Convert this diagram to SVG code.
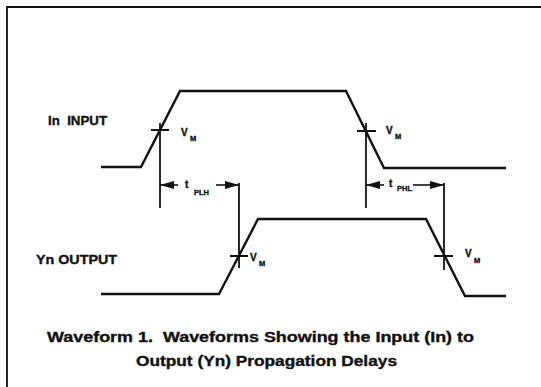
<svg xmlns="http://www.w3.org/2000/svg" width="541" height="387" viewBox="0 0 541 387">
<style>
.wave{fill:none;stroke:#111;stroke-width:2.4;stroke-linejoin:miter}
.ln{fill:none;stroke:#111;stroke-width:1.8}
.dim{fill:none;stroke:#111;stroke-width:1.6}
.lbl{font-family:"Liberation Sans",Arial,sans-serif;font-weight:bold;fill:#111;stroke:#111;stroke-width:0.35;white-space:pre}
.big{font-size:12px}
.cap{font-size:14px}
.v{font-size:10px}
.sub{font-size:7.5px}
.head{fill:#111}
</style>
<defs>
<marker id="ah" viewBox="0 0 14 8" refX="14" refY="4" markerWidth="14" markerHeight="8" markerUnits="userSpaceOnUse" orient="auto-start-reverse">
<path d="M0,0 L14,4 L0,8 Z" class="head"/>
</marker>
</defs>
<rect width="541" height="387" fill="#fff"/>
<g id="frame">
<path class="ln" d="M7,387 L7,7 L541,7" stroke-width="1.6"/>
</g>
<g id="input">
<path class="wave" d="M101,167 L141,167 L180,91 L346,91 L384,168 L506,168"/>
<text class="lbl big" x="48" y="125" textLength="59" lengthAdjust="spacingAndGlyphs" xml:space="preserve">In  INPUT</text>
<path class="ln" d="M151,130 L169,130 M357,131 L376,131"/>
<text class="lbl v" x="181" y="136">V</text><text class="lbl sub" x="190" y="141">M</text>
<text class="lbl v" x="386" y="134">V</text><text class="lbl sub" x="395" y="139">M</text>
</g>
<g id="output">
<path class="wave" d="M101,294 L219,294 L258,219 L426,219 L465,296 L506,296"/>
<text class="lbl big" x="36" y="264" textLength="81" lengthAdjust="spacingAndGlyphs">Yn OUTPUT</text>
<path class="ln" d="M230,256 L248,256 M434,256 L453,256"/>
<text class="lbl v" x="250" y="261">V</text><text class="lbl sub" x="259" y="266">M</text>
<text class="lbl v" x="465" y="257">V</text><text class="lbl sub" x="474" y="263">M</text>
</g>
<g id="connectors">
<path class="ln" d="M160,123 L160,208"/>
<path class="ln" d="M366,123 L366,208"/>
<path class="ln" d="M239,183 L239,268"/>
<path class="ln" d="M444,183 L444,270"/>
<path class="dim" d="M178,185 L160,185" marker-end="url(#ah)"/>
<path class="dim" d="M216,185 L239,185" marker-end="url(#ah)"/>
<path class="dim" d="M384,185 L366,185" marker-end="url(#ah)"/>
<path class="dim" d="M413,185 L444,185" marker-end="url(#ah)"/>
</g>
<g id="delays">
<text class="lbl v" x="185" y="188">t</text><text class="lbl sub" x="194" y="195">PLH</text>
<text class="lbl v" x="389" y="187">t</text><text class="lbl sub" x="397" y="191">PHL</text>
</g>
<g id="caption">
<text class="lbl cap" x="47" y="342" textLength="427" lengthAdjust="spacingAndGlyphs" xml:space="preserve">Waveform 1.  Waveforms Showing the Input (In) to</text>
<text class="lbl cap" x="136" y="366" textLength="261" lengthAdjust="spacingAndGlyphs">Output (Yn) Propagation Delays</text>
</g>
</svg>
